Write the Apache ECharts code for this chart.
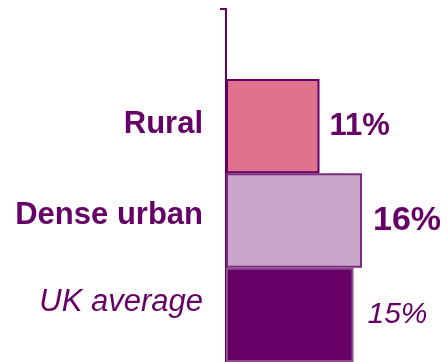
<!DOCTYPE html>
<html>
<head>
<meta charset="utf-8">
<script src="https://cdn.jsdelivr.net/npm/echarts@6/dist/echarts.min.js"></script>
<style>
html,body{margin:0;padding:0;background:#fff;}
#c{width:447px;height:362px;}
</style>
</head>
<body>
<div id="c"></div>
<script>
const categories = ['Rural', 'Dense urban', 'UK average'];
const values = [11, 16, 15];
const valueLabels = ['11%', '16%', '15%'];

const purple = '#660066';
const fills = ['#E0728E', '#C9A6CA', '#660066'];
const borders = ['#660066', '#7A2A7A', '#8E4E8E'];
const catStyles = ['b0', 'b1', 'i2'];
const valStyles = [
  {fontWeight: 'bold', fontStyle: 'normal', fontSize: 31, distance: 10},
  {fontWeight: 'bold', fontStyle: 'normal', fontSize: 34, distance: 11},
  {fontWeight: 'normal', fontStyle: 'italic', fontSize: 30, distance: 14}
];

const chart = echarts.init(document.getElementById('c'), null, {renderer: 'canvas'});
chart.setOption({
  animation: false,
  grid: {left: 226, top: 79, width: 223, height: 285, containLabel: false},
  xAxis: {
    type: 'value', min: 0, max: 26, show: false
  },
  yAxis: {
    type: 'category',
    inverse: true,
    data: categories,
    axisLine: {show: true, lineStyle: {color: purple, width: 2}},
    axisTick: {show: false},
    axisLabel: {
      margin: 23,
      fontFamily: 'Liberation Sans',
      color: purple,
      formatter: (v, i) => '{' + catStyles[i] + '|' + v + '}',
      rich: {
        b0: {fontFamily: 'Liberation Sans', fontSize: 31, fontWeight: 'bold', color: purple, padding: [0, 0, 3, 0]},
        b1: {fontFamily: 'Liberation Sans', fontSize: 31, fontWeight: 'bold', color: purple, padding: [0, 0, 11, 0]},
        i2: {fontFamily: 'Liberation Sans', fontSize: 31, fontStyle: 'italic', color: purple, padding: [0, 0, 24, 0]}
      }
    }
  },
  graphic: [
    {type: 'line', shape: {x1: 226, y1: 9, x2: 226, y2: 80}, style: {stroke: purple, lineWidth: 2}},
    {type: 'line', shape: {x1: 220, y1: 9, x2: 227, y2: 9}, style: {stroke: purple, lineWidth: 2}}
  ],
  series: [{
    type: 'bar',
    barCategoryGap: 0,
    barWidth: '100%',
    data: values.map((v, i) => ({
      value: v,
      itemStyle: {color: fills[i], borderColor: borders[i], borderWidth: 2},
      label: {
        show: true,
        position: 'right',
        distance: valStyles[i].distance,
        formatter: valueLabels[i],
        fontFamily: 'Liberation Sans',
        fontSize: valStyles[i].fontSize,
        fontWeight: valStyles[i].fontWeight,
        fontStyle: valStyles[i].fontStyle,
        color: purple
      }
    }))
  }]
});
</script>
</body>
</html>
